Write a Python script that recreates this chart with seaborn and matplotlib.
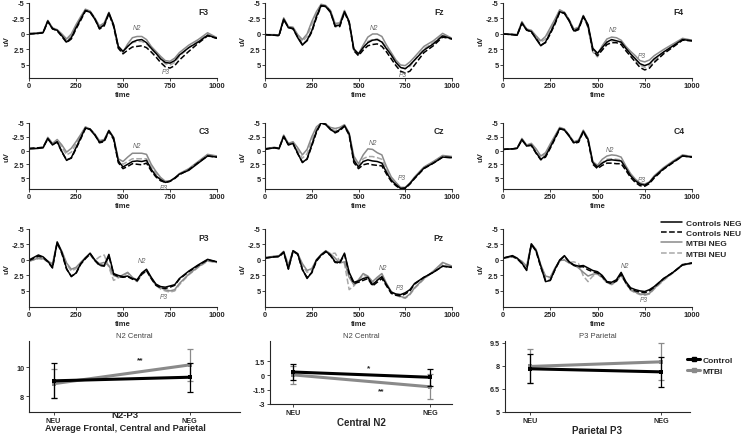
import matplotlib.pyplot as plt
from matplotlib.lines import Line2D
import seaborn as sns

# time axis (ms) shared by all ERP panels
t_ms = [0, 50, 75, 100, 125, 150, 175, 200, 225, 250, 275, 300, 325, 350, 375, 400, 425, 450, 475,
        500, 525, 550, 575, 600, 625, 650, 675, 700, 725, 750, 775, 800, 850, 900, 950, 1000]

# ---- frontal
f3_ctrl_neg = [0.0, -0.1, -0.2, -2.1, -0.8, -0.6, 0.3, 1.3, 0.6, -1.0, -2.4, -3.8, -3.5, -2.4, -0.9, -1.5, -3.4, -1.5, 2.0,
               2.8, 2.0, 1.3, 1.0, 0.9, 1.4, 2.3, 3.1, 4.0, 4.6, 4.7, 4.3, 3.4, 2.2, 1.3, 0.2, 0.7]
f3_ctrl_neu = [0.0, -0.1, -0.2, -2.0, -0.9, -0.5, 0.4, 1.4, 0.8, -0.8, -2.2, -3.7, -3.6, -2.5, -0.8, -1.3, -3.3, -1.2, 2.3,
               3.2, 2.6, 2.1, 2.0, 1.9, 2.2, 2.9, 3.7, 4.6, 5.3, 5.5, 5.1, 4.2, 2.8, 1.5, 0.3, 0.7]
f3_mtbi_neg = [-0.1, -0.2, -0.3, -2.2, -1.0, -0.7, 0.0, 0.8, 0.0, -1.5, -2.8, -4.0, -3.7, -2.6, -1.3, -1.8, -3.5, -1.4, 2.0,
               2.9, 1.6, 0.6, 0.4, 0.4, 0.9, 2.0, 2.8, 3.6, 4.3, 4.4, 3.9, 3.0, 1.8, 0.9, -0.2, 0.6]
f3_mtbi_neu = [-0.1, -0.2, -0.2, -2.1, -0.9, -0.6, 0.1, 1.0, 0.3, -1.3, -2.6, -3.9, -3.6, -2.5, -1.1, -1.6, -3.4, -1.3, 2.2,
               3.0, 2.0, 1.4, 1.2, 1.2, 1.6, 2.4, 3.2, 4.1, 4.8, 5.0, 4.6, 3.6, 2.2, 1.1, 0.0, 0.7]

fz_ctrl_neg = [0.1, 0.2, 0.2, -2.4, -1.0, -0.9, 0.6, 1.8, 1.0, -0.5, -2.8, -4.6, -4.4, -3.5, -1.3, -1.4, -3.6, -2.0, 2.4,
               3.2, 2.2, 1.4, 1.0, 0.9, 1.3, 2.4, 3.4, 4.6, 5.4, 5.6, 5.0, 4.2, 2.6, 1.6, 0.3, 0.8]
fz_ctrl_neu = [0.1, 0.2, 0.3, -2.3, -1.1, -0.8, 0.5, 1.7, 1.1, -0.3, -2.6, -4.5, -4.5, -3.6, -1.2, -1.2, -3.5, -1.8, 2.7,
               3.5, 2.6, 1.9, 1.7, 1.6, 2.0, 2.9, 4.0, 5.1, 6.0, 6.3, 6.0, 5.0, 3.0, 1.9, 0.5, 0.8]
fz_mtbi_neg = [0.1, 0.1, 0.2, -2.6, -1.2, -1.1, 0.1, 0.9, 0.0, -2.0, -3.6, -4.8, -4.6, -3.8, -1.7, -1.8, -3.8, -2.0, 2.5,
               3.2, 1.8, 0.5, 0.0, 0.0, 0.4, 1.8, 3.0, 4.2, 5.0, 5.1, 4.5, 3.7, 2.0, 1.1, -0.1, 0.7]
fz_mtbi_neu = [0.1, 0.2, 0.2, -2.5, -1.1, -1.0, 0.3, 1.2, 0.4, -1.5, -3.2, -4.7, -4.5, -3.6, -1.5, -1.6, -3.7, -1.9, 2.6,
               3.3, 2.2, 1.2, 0.9, 0.8, 1.2, 2.2, 3.3, 4.5, 5.4, 5.6, 5.2, 4.2, 2.4, 1.4, 0.1, 0.8]

f4_ctrl_neg = [0.0, 0.1, 0.2, -1.8, -0.6, -0.4, 0.8, 1.9, 1.3, -0.2, -1.8, -3.6, -3.3, -2.1, -0.5, -0.9, -2.9, -1.5, 2.3,
               3.1, 2.2, 1.3, 0.9, 1.1, 1.3, 2.3, 3.2, 4.0, 4.8, 5.1, 4.8, 4.0, 2.9, 1.9, 0.9, 1.1]
f4_ctrl_neu = [0.0, 0.1, 0.2, -1.7, -0.7, -0.3, 0.7, 1.8, 1.4, 0.0, -1.6, -3.5, -3.4, -2.2, -0.4, -0.7, -2.8, -1.2, 2.7,
               3.5, 2.6, 1.7, 1.4, 1.4, 1.7, 2.7, 3.6, 4.5, 5.4, 5.8, 5.5, 4.6, 3.2, 2.1, 1.0, 1.1]
f4_mtbi_neg = [0.0, 0.0, 0.1, -2.0, -0.8, -0.6, 0.3, 1.1, 0.4, -1.0, -2.4, -3.9, -3.5, -2.3, -0.8, -1.1, -3.0, -1.3, 2.4,
               3.3, 1.9, 0.8, 0.5, 0.6, 1.0, 2.0, 2.8, 3.5, 4.3, 4.5, 4.2, 3.5, 2.5, 1.6, 0.7, 1.0]
f4_mtbi_neu = [0.0, 0.1, 0.1, -1.9, -0.8, -0.5, 0.4, 1.3, 0.8, -0.7, -2.2, -3.8, -3.5, -2.3, -0.6, -1.0, -2.9, -1.0, 2.9,
               3.7, 2.3, 1.3, 1.1, 1.1, 1.4, 2.4, 3.3, 4.2, 5.0, 5.4, 5.1, 4.3, 3.0, 2.0, 0.9, 1.0]

# ---- central
c3_ctrl_neg = [-0.3, -0.4, -0.5, -2.2, -1.0, -1.6, 0.2, 1.8, 1.3, -0.5, -2.3, -4.1, -3.8, -2.8, -1.5, -1.8, -3.6, -2.3, 1.9,
               3.0, 2.5, 2.0, 1.9, 2.0, 1.8, 3.4, 4.6, 5.3, 5.8, 5.6, 5.0, 4.3, 3.6, 2.3, 1.0, 1.2]
c3_ctrl_neu = [-0.4, -0.5, -0.6, -2.1, -1.1, -1.5, 0.3, 1.7, 1.4, -0.3, -2.1, -4.0, -3.9, -2.9, -1.4, -1.6, -3.5, -2.0, 2.2,
               3.3, 2.9, 2.4, 2.5, 2.6, 2.3, 3.7, 4.8, 5.5, 5.8, 5.6, 5.1, 4.4, 3.5, 2.2, 1.0, 1.2]
c3_mtbi_neg = [-0.3, -0.4, -0.5, -2.4, -1.3, -2.0, -1.0, 0.3, -0.4, -1.6, -2.9, -4.3, -3.9, -3.0, -1.8, -2.0, -3.7, -2.4, 1.5,
               2.0, 1.2, 0.5, 0.5, 0.5, 0.7, 2.5, 3.8, 4.9, 5.6, 5.5, 5.0, 4.2, 3.3, 2.0, 0.7, 1.0]
c3_mtbi_neu = [-0.3, -0.4, -0.5, -2.3, -1.2, -1.8, -0.6, 0.8, 0.3, -1.2, -2.7, -4.2, -3.9, -2.9, -1.6, -1.9, -3.6, -2.2, 1.8,
               2.5, 2.0, 1.5, 1.5, 1.5, 1.5, 3.0, 4.2, 5.1, 5.7, 5.6, 5.0, 4.3, 3.4, 2.1, 0.8, 1.1]

cz_ctrl_neg = [-0.2, -0.5, -0.3, -2.6, -1.0, -1.3, 0.5, 2.2, 1.5, -1.0, -3.5, -5.0, -4.7, -3.8, -3.3, -3.8, -4.5, -3.0, 1.8,
               3.0, 2.0, 1.7, 1.9, 2.0, 2.3, 4.0, 5.4, 6.2, 6.9, 6.8, 6.0, 5.0, 3.2, 2.3, 1.2, 1.3]
cz_ctrl_neu = [-0.3, -0.5, -0.4, -2.5, -1.1, -1.2, 0.6, 2.1, 1.6, -0.8, -3.3, -5.0, -4.8, -3.9, -3.2, -3.6, -4.4, -2.8, 2.2,
               3.3, 2.6, 2.4, 2.6, 2.7, 2.8, 4.3, 5.6, 6.4, 7.0, 6.9, 6.1, 5.1, 3.3, 2.3, 1.2, 1.3]
cz_mtbi_neg = [-0.3, -0.6, -0.4, -2.8, -1.3, -1.6, -0.5, 0.8, -0.2, -2.5, -4.3, -5.0, -4.8, -4.2, -4.0, -4.2, -4.7, -3.2, 1.0,
               2.4, 0.8, -0.3, -0.2, 0.4, 0.8, 3.0, 4.8, 5.8, 6.7, 6.7, 5.9, 4.8, 3.0, 2.0, 0.9, 1.1]
cz_mtbi_neu = [-0.3, -0.5, -0.4, -2.7, -1.2, -1.4, 0.0, 1.4, 0.6, -1.8, -3.9, -5.0, -4.8, -4.0, -3.6, -4.0, -4.6, -3.0, 1.5,
               2.8, 1.5, 1.1, 1.1, 1.3, 1.6, 3.5, 5.1, 6.0, 6.8, 6.8, 6.0, 4.9, 3.1, 2.1, 1.0, 1.2]

c4_ctrl_neg = [-0.2, -0.3, -0.4, -2.0, -0.8, -1.0, 0.4, 1.6, 1.0, -0.6, -2.3, -4.0, -3.7, -2.6, -1.4, -1.7, -3.5, -2.0, 2.2,
               3.0, 2.3, 1.8, 1.7, 1.8, 1.9, 3.2, 4.6, 5.5, 6.1, 6.3, 5.8, 4.8, 3.3, 2.1, 1.0, 1.2]
c4_ctrl_neu = [-0.2, -0.3, -0.4, -1.9, -0.9, -0.9, 0.5, 1.7, 1.2, -0.4, -2.1, -3.9, -3.8, -2.7, -1.3, -1.5, -3.4, -1.8, 2.5,
               3.3, 2.7, 2.3, 2.3, 2.4, 2.4, 3.6, 4.9, 5.8, 6.4, 6.5, 6.0, 5.0, 3.4, 2.2, 1.0, 1.2]
c4_mtbi_neg = [-0.2, -0.3, -0.4, -2.2, -1.0, -1.3, -0.3, 1.0, 0.4, -1.2, -2.7, -4.2, -3.9, -2.8, -1.6, -1.9, -3.7, -2.2, 2.0,
               2.7, 1.6, 1.0, 0.8, 0.9, 1.2, 2.8, 4.2, 5.2, 5.9, 6.1, 5.7, 4.6, 3.1, 1.9, 0.8, 1.1]
c4_mtbi_neu = [-0.2, -0.3, -0.4, -2.1, -0.9, -1.2, 0.0, 1.3, 0.7, -0.9, -2.5, -4.1, -3.8, -2.7, -1.5, -1.8, -3.6, -2.1, 2.2,
               2.9, 2.2, 1.6, 1.5, 1.6, 1.7, 3.1, 4.5, 5.4, 6.1, 6.3, 5.9, 4.8, 3.2, 2.0, 0.9, 1.1]

# ---- parietal
p3_ctrl_neg = [0.0, -0.8, -0.5, 0.2, 1.2, -2.9, -1.2, 1.4, 2.7, 2.1, 0.6, -0.3, -1.1, 0.0, 0.8, 0.9, -0.9, 2.2, 2.5,
               2.7, 2.6, 3.0, 3.2, 2.1, 1.5, 2.8, 3.9, 4.3, 4.4, 4.2, 4.0, 3.0, 1.8, 0.8, -0.1, 0.3]
p3_ctrl_neu = [0.1, -0.6, -0.4, 0.3, 1.3, -2.8, -1.0, 1.5, 2.6, 2.2, 0.7, -0.2, -1.0, 0.1, 0.9, 1.0, -0.6, 2.3, 2.7,
               2.8, 2.7, 3.1, 3.4, 2.3, 1.7, 3.0, 4.1, 4.5, 4.6, 4.4, 4.1, 3.1, 1.9, 0.9, 0.0, 0.3]
p3_mtbi_neg = [0.2, -0.3, -0.2, 0.2, 0.6, -2.9, -1.4, 0.5, 1.5, 1.2, 0.4, -0.4, -1.0, 0.0, 0.6, 0.4, 0.9, 2.5, 2.8,
               2.4, 2.0, 2.8, 3.3, 2.2, 1.7, 2.9, 4.0, 4.5, 4.8, 5.0, 4.8, 3.8, 2.3, 1.1, 0.1, 0.4]
p3_mtbi_neu = [0.2, -0.2, -0.1, 0.3, 0.8, -2.7, -1.3, 0.7, 1.8, 1.4, 0.5, -0.3, -0.8, 0.1, -0.5, -0.8, 1.2, 3.3, 2.9,
               2.5, 2.1, 2.9, 3.5, 2.4, 1.8, 3.0, 4.1, 4.7, 5.0, 5.2, 5.0, 4.0, 2.4, 1.2, 0.2, 0.4]

pz_ctrl_neg = [-0.3, -0.5, -0.6, -1.3, 1.5, -1.5, -1.0, 1.5, 3.0, 2.0, 0.0, -0.8, -1.4, -0.8, 0.3, 0.4, -1.1, 2.0, 3.6,
               3.4, 3.0, 2.8, 4.0, 3.3, 2.7, 4.0, 5.2, 5.5, 5.6, 5.3, 4.8, 3.8, 2.8, 2.0, 1.0, 1.2]
pz_ctrl_neu = [-0.3, -0.5, -0.5, -1.2, 1.4, -1.4, -0.9, 1.6, 2.8, 2.1, 0.2, -0.7, -1.3, -0.7, 0.4, 0.5, -0.9, 2.2, 3.8,
               3.6, 3.3, 3.0, 4.2, 3.6, 3.0, 4.2, 5.4, 5.7, 5.8, 5.5, 5.0, 3.9, 2.8, 2.0, 1.0, 1.2]
pz_mtbi_neg = [-0.4, -0.6, -0.7, -1.4, 0.8, -1.5, -1.0, 0.6, 1.7, 1.4, 0.0, -0.9, -1.5, -1.0, -0.3, 0.5, 0.3, 2.8, 4.0,
               3.2, 2.2, 2.6, 3.5, 2.8, 2.2, 3.8, 5.1, 5.6, 5.9, 6.1, 5.5, 4.5, 3.0, 1.8, 0.4, 1.0]
pz_mtbi_neu = [-0.4, -0.6, -0.6, -1.3, 1.0, -1.4, -0.9, 0.9, 2.0, 1.6, 0.1, -0.8, -1.4, -1.0, -1.1, 0.2, 0.6, 4.8, 4.2,
               3.3, 2.4, 2.8, 3.7, 3.0, 2.4, 3.9, 5.2, 5.7, 6.0, 6.2, 5.6, 4.6, 3.1, 1.9, 0.6, 1.1]

p4_ctrl_neg = [-0.3, -0.7, -0.3, 0.5, 1.7, -2.6, -1.5, 1.0, 3.5, 3.3, 1.5, 0.0, -0.7, 0.3, 0.8, 1.0, 0.9, 1.3, 1.7,
               1.9, 2.5, 3.5, 3.6, 3.2, 2.0, 3.5, 4.5, 4.8, 5.0, 5.1, 4.8, 4.3, 3.0, 2.0, 0.8, 0.5]
p4_ctrl_neu = [-0.3, -0.6, -0.2, 0.6, 1.6, -2.5, -1.4, 1.2, 3.3, 3.3, 1.6, 0.1, -0.6, 0.3, 0.9, 1.1, 1.1, 1.6, 1.9,
               2.1, 2.7, 3.6, 3.8, 3.4, 2.3, 3.7, 4.7, 5.0, 5.2, 5.3, 5.0, 4.4, 3.0, 2.0, 0.8, 0.5]
p4_mtbi_neg = [-0.3, -0.5, -0.2, 0.2, 1.0, -2.6, -1.7, 0.8, 2.6, 2.8, 1.3, 0.1, 0.0, 0.5, 0.8, 1.3, 2.0, 2.6, 2.3,
               2.2, 2.8, 3.6, 3.9, 3.4, 2.4, 3.7, 4.8, 5.2, 5.5, 5.6, 5.4, 4.6, 3.2, 2.0, 0.7, 0.5]
p4_mtbi_neu = [-0.3, -0.5, -0.2, 0.3, 1.1, -2.5, -1.6, 0.9, 2.8, 2.9, 1.4, 0.2, 0.0, 0.4, 0.3, 0.6, 2.6, 3.5, 2.6,
               2.3, 2.9, 3.7, 4.0, 3.5, 2.5, 3.8, 4.9, 5.3, 5.6, 5.7, 5.5, 4.7, 3.3, 2.1, 0.8, 0.6]

# ---- summary plots (mean, error)
conditions = ["NEU", "NEG"]
n2p3_control = [9.05, 9.3]
n2p3_control_err = [1.2, 1.0]
n2p3_mtbi = [8.85, 10.15]
n2p3_mtbi_err = [1.0, 1.1]
n2_control = [0.35, -0.2]
n2_control_err = [0.85, 0.9]
n2_mtbi = [0.05, -1.2]
n2_mtbi_err = [0.95, 1.3]
p3_control = [7.8, 7.6]
p3_control_err = [0.95, 0.95]
p3_mtbi = [7.95, 8.25]
p3_mtbi_err = [1.1, 1.2]

sns.set_style("ticks")
plt.rcParams["font.family"] = ["Liberation Sans", "DejaVu Sans"]

W, H = 741, 435
fig = plt.figure(figsize=(W / 100, H / 100), dpi=100)


def px_axes(x0, y0, x1, y1):
    return fig.add_axes([x0 / W, 1 - y1 / H, (x1 - x0) / W, (y1 - y0) / H])


series = [("MTBI NEU", "#a8a8a8", "--"), ("MTBI NEG", "#8a8a8a", "-"),
          ("Controls NEU", "black", "--"), ("Controls NEG", "black", "-")]

panels = [
    ("F3", [f3_mtbi_neu, f3_mtbi_neg, f3_ctrl_neu, f3_ctrl_neg], (575, -1.1), (728, 6.1)),
    ("Fz", [fz_mtbi_neu, fz_mtbi_neg, fz_ctrl_neu, fz_ctrl_neg], (585, -1.0), (735, 6.6)),
    ("F4", [f4_mtbi_neu, f4_mtbi_neg, f4_ctrl_neu, f4_ctrl_neg], (581, -0.8), (736, 3.5)),
    ("C3", [c3_mtbi_neu, c3_mtbi_neg, c3_ctrl_neu, c3_ctrl_neg], (574, -0.9), (716, 6.8)),
    ("Cz", [cz_mtbi_neu, cz_mtbi_neg, cz_ctrl_neu, cz_ctrl_neg], (577, -1.4), (732, 5.0)),
    ("C4", [c4_mtbi_neu, c4_mtbi_neg, c4_ctrl_neu, c4_ctrl_neg], (565, -0.2), (735, 5.2)),
    ("P3", [p3_mtbi_neu, p3_mtbi_neg, p3_ctrl_neu, p3_ctrl_neg], (600, 0.1), (716, 5.9)),
    ("Pz", [pz_mtbi_neu, pz_mtbi_neg, pz_ctrl_neu, pz_ctrl_neg], (630, 1.3), (720, 4.4)),
    ("P4", [p4_mtbi_neu, p4_mtbi_neg, p4_ctrl_neu, p4_ctrl_neg], (646, 0.9), (745, 6.4)),
]

cols = [(29, 217), (265, 452), (503, 692)]
rows = [(4, 79, 7.1), (124, 190, 7.0), (230, 308, 7.6)]

for i, (name, curves, n2_pos, p3_pos) in enumerate(panels):
    x0, x1 = cols[i % 3]
    y0, y1, ybot = rows[i // 3]
    ax = px_axes(x0, y0, x1, y1)
    for (label, color, ls), vals in zip(series, curves):
        sns.lineplot(x=t_ms, y=vals, ax=ax, color=color, linestyle=ls,
                     linewidth=1.1, estimator=None, legend=False)
    ax.set_xlim(0, 1000)
    ax.set_ylim(ybot, -5)
    ax.set_xticks([0, 250, 500, 750, 1000])
    ax.set_yticks([-5, -2.5, 0, 2.5, 5])
    ax.set_yticklabels(["-5", "-2.5", "0", "2.5", "5"])
    ax.tick_params(labelsize=5.4, length=2, width=0.6, pad=1)
    for lab in ax.get_xticklabels() + ax.get_yticklabels():
        lab.set_fontweight("bold")
    ax.set_xlabel("time", fontsize=5.5, fontweight="bold", labelpad=1)
    ax.set_ylabel("uV", fontsize=5.5, fontweight="bold", labelpad=1)
    sns.despine(ax=ax)
    for sp in ax.spines.values():
        sp.set_linewidth(0.8)
    ax.text(0.93, 0.89, name, transform=ax.transAxes, fontsize=6.2,
            fontweight="bold", ha="center", va="center")
    ax.text(*n2_pos, "N2", fontsize=4.8, style="italic", color="#666666",
            ha="center", va="center")
    ax.text(*p3_pos, "P3", fontsize=4.8, style="italic", color="#666666",
            ha="center", va="center")

erp_handles = [Line2D([], [], color=c, linestyle=ls, linewidth=1.1) for _, c, ls in series[::-1]]
erp_labels = [lab for lab, _, _ in series[::-1]]
fig.legend(erp_handles, erp_labels, loc="upper left", bbox_to_anchor=(655 / W, 1 - 214 / H),
           prop={"size": 6, "weight": "bold"}, handlelength=2.6, labelspacing=0.3,
           borderpad=0.2, handletextpad=0.4, frameon=True, framealpha=1, edgecolor="none")

# ---- bottom summary row
bottom = [
    ((29, 342, 240, 413), n2p3_control, n2p3_control_err, n2p3_mtbi, n2p3_mtbi_err,
     (6.9, 11.8), [8, 10], "N2 Central", None,
     (-0.18, 1.37), [("**", 0.64, 10.5)]),
    ((270, 342, 452, 405), n2_control, n2_control_err, n2_mtbi, n2_mtbi_err,
     (-3, 3.6), [-3, -1.5, 0, 1.5], "N2 Central", "Central N2",
     (-0.17, 1.16), [("*", 0.55, 0.75), ("**", 0.64, -1.6)]),
    ((505, 342, 690, 413), p3_control, p3_control_err, p3_mtbi, p3_mtbi_err,
     (5, 9.6), [5, 6.5, 8, 9.5], "P3 Parietal", "Parietal P3",
     (-0.19, 1.22), []),
]

xpos = [0, 1]
for box, ctrl, ctrl_err, mtbi, mtbi_err, ylim, yticks, title, xlabel, xlim, stars in bottom:
    ax = px_axes(*box)
    for vals, err, color in [(mtbi, mtbi_err, "#8a8a8a"), (ctrl, ctrl_err, "black")]:
        ax.errorbar(xpos, vals, yerr=err, fmt="none", ecolor=color, elinewidth=0.9,
                    capsize=2, capthick=0.9)
        sns.lineplot(x=xpos, y=vals, ax=ax, color=color, linewidth=2.2, marker="s",
                     markersize=3, markeredgewidth=0, estimator=None, legend=False)
    ax.set_xlim(*xlim)
    ax.set_ylim(*ylim)
    ax.set_yticks(yticks)
    ax.set_yticklabels([f"{v:g}" for v in yticks])
    ax.set_xticks(xpos)
    ax.set_xticklabels(conditions)
    ax.tick_params(labelsize=5.2, length=2, width=0.6, pad=1.5)
    for lab in ax.get_xticklabels() + ax.get_yticklabels():
        lab.set_fontweight("bold")
    ax.set_title(title, fontsize=5.5, color="#444444", pad=3)
    if xlabel:
        ax.set_xlabel(xlabel, fontsize=7, fontweight="bold", labelpad=1)
    sns.despine(ax=ax)
    for sp in ax.spines.values():
        sp.set_linewidth(0.8)
    for s, sx, sy in stars:
        ax.text(sx, sy, s, fontsize=6, fontweight="bold", ha="center", va="center")

# two-line label of the first summary plot
fig.text(125 / W, 1 - 416 / H, "N2-P3", fontsize=6.8, fontweight="bold", ha="center", va="center")
fig.text(125 / W, 1 - 428.5 / H, "Average Frontal, Central and Parietal", fontsize=6.6,
         fontweight="bold", ha="center", va="center")

grp_handles = [Line2D([], [], color="black", linewidth=2.2, marker="s", markersize=3),
               Line2D([], [], color="#8a8a8a", linewidth=2.2, marker="s", markersize=3)]
fig.legend(grp_handles, ["Control", "MTBI"], loc="upper left", bbox_to_anchor=(682 / W, 1 - 352 / H),
           prop={"size": 6, "weight": "bold"}, handlelength=1.6, labelspacing=0.4,
           borderpad=0.1, handletextpad=0.3, frameon=False)

fig.savefig("out.png", dpi=100)
